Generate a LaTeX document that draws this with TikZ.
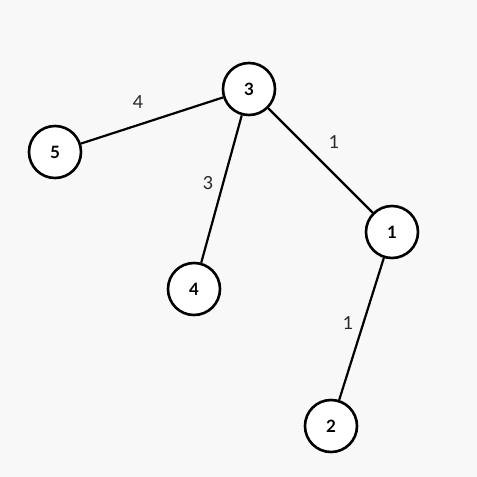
\documentclass[tikz,border=0pt]{standalone}
\usepackage{fontspec}
\setmainfont{Lato}
\begin{document}
\begin{tikzpicture}[x=1pt,y=-1pt,
  vtx/.style={circle,draw=black,line width=2.6pt,fill=white,minimum size=52pt,inner sep=0pt,font=\fontsize{17}{17}\selectfont\bfseries},
  edge/.style={line width=2.2pt,black},
  wlabel/.style={font=\fontsize{18}{18}\selectfont,text=black!85}]
\fill[fill={rgb,255:red,248;green,248;blue,248}] (0,0) rectangle (477,477);
\useasboundingbox (0,0) rectangle (477,477);
\node[vtx] (n3) at (249,89) {3};
\node[vtx] (n5) at (55,152) {5};
\node[vtx] (n4) at (194,289) {4};
\node[vtx] (n1) at (392,232) {1};
\node[vtx] (n2) at (331,426) {2};
\draw[edge] (n3) -- (n5);
\draw[edge] (n3) -- (n4);
\draw[edge] (n3) -- (n1);
\draw[edge] (n1) -- (n2);
\node[wlabel] (l35) at (138,102) {4};
\node[wlabel] (l31) at (334,142) {1};
\node[wlabel] (l34) at (208,183) {3};
\node[wlabel] (l12) at (348,323) {1};
\end{tikzpicture}
\end{document}
